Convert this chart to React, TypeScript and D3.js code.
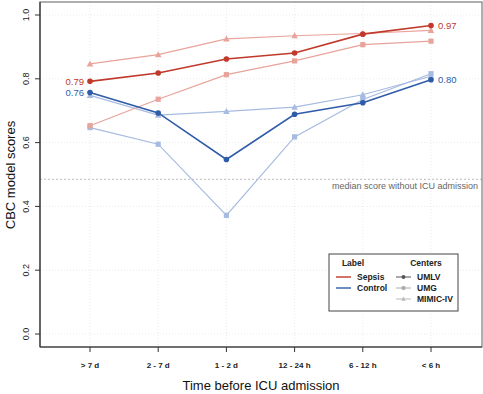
import { useEffect, useRef } from 'react';
import * as d3 from 'd3';

// Time windows before ICU admission
const categories = ['> 7 d', '2 - 7 d', '1 - 2 d', '12 - 24 h', '6 - 12 h', '< 6 h'];
const yTicks = [0, 0.2, 0.4, 0.6, 0.8, 1.0];

const sepsisUMLV = [0.792, 0.818, 0.862, 0.881, 0.94, 0.967];
const sepsisUMG = [0.653, 0.736, 0.813, 0.856, 0.907, 0.918];
const sepsisMIMIC = [0.847, 0.876, 0.925, 0.935, 0.942, 0.952];
const controlUMLV = [0.757, 0.693, 0.547, 0.689, 0.725, 0.797];
const controlUMG = [0.647, 0.595, 0.372, 0.618, 0.735, 0.816];
const controlMIMIC = [0.748, 0.686, 0.698, 0.711, 0.75, 0.808];

const medianNoICU = 0.485;

const SEPSIS_DARK = '#c0392b';
const SEPSIS_LIGHT = '#e8a39a';
const CONTROL_DARK = '#2f5ca8';
const CONTROL_LIGHT = '#a7bbe0';

type Shape = 'circle' | 'square' | 'triangle';
type Series = { values: number[]; color: string; shape: Shape; width: number };

const series: Series[] = [
  { values: controlUMG, color: CONTROL_LIGHT, shape: 'square', width: 1.2 },
  { values: controlMIMIC, color: CONTROL_LIGHT, shape: 'triangle', width: 1.2 },
  { values: sepsisUMG, color: SEPSIS_LIGHT, shape: 'square', width: 1.2 },
  { values: sepsisMIMIC, color: SEPSIS_LIGHT, shape: 'triangle', width: 1.2 },
  { values: controlUMLV, color: CONTROL_DARK, shape: 'circle', width: 1.6 },
  { values: sepsisUMLV, color: SEPSIS_DARK, shape: 'circle', width: 1.6 },
];

const W = 483;
const H = 394;
const M = { left: 40, right: 482, top: 2, bottom: 347 };
const FONT = '"Liberation Sans", Arial, sans-serif';

export default function App() {
  const svgRef = useRef<SVGSVGElement>(null);

  useEffect(() => {
    const svg = d3.select(svgRef.current);
    svg.selectAll('*').remove();

    const x = d3.scalePoint<string>().domain(categories).range([90, 431]);
    const y = d3.scaleLinear().domain([0, 1]).range([334, 15]);

    svg.append('rect').attr('width', W).attr('height', H).attr('fill', '#fff');

    // faint dotted grid
    const grid = svg.append('g');
    for (const t of yTicks) {
      grid.append('line')
        .attr('x1', M.left).attr('x2', M.right)
        .attr('y1', y(t)).attr('y2', y(t))
        .attr('stroke', '#e6e6e6').attr('stroke-width', 0.8).attr('stroke-dasharray', '1,2');
    }
    for (const c of categories) {
      grid.append('line')
        .attr('x1', x(c)!).attr('x2', x(c)!)
        .attr('y1', M.top).attr('y2', M.bottom)
        .attr('stroke', '#e6e6e6').attr('stroke-width', 0.8).attr('stroke-dasharray', '1,2');
    }

    // median reference line
    svg.append('line')
      .attr('x1', M.left).attr('x2', M.right)
      .attr('y1', y(medianNoICU)).attr('y2', y(medianNoICU))
      .attr('stroke', '#b5b5b5').attr('stroke-width', 0.9).attr('stroke-dasharray', '2,2');
    svg.append('text')
      .attr('x', 478).attr('y', y(medianNoICU) + 10)
      .attr('text-anchor', 'end').attr('font-family', FONT).attr('font-size', 9)
      .attr('fill', '#666').text('median score without ICU admission');

    // frame
    svg.append('rect')
      .attr('x', M.left).attr('y', M.top)
      .attr('width', M.right - M.left).attr('height', M.bottom - M.top)
      .attr('fill', 'none').attr('stroke', '#7a7a7a').attr('stroke-width', 1.2);
    svg.append('line')
      .attr('x1', M.left).attr('x2', M.left).attr('y1', M.top).attr('y2', M.bottom)
      .attr('stroke', '#333').attr('stroke-width', 1.2);
    svg.append('line')
      .attr('x1', M.left).attr('x2', M.right).attr('y1', M.bottom).attr('y2', M.bottom)
      .attr('stroke', '#333').attr('stroke-width', 1.2);

    // y axis ticks + rotated labels
    for (const t of yTicks) {
      svg.append('line')
        .attr('x1', M.left - 5).attr('x2', M.left).attr('y1', y(t)).attr('y2', y(t))
        .attr('stroke', '#333');
      svg.append('text')
        .attr('transform', `translate(29,${y(t)}) rotate(-90)`)
        .attr('text-anchor', 'middle').attr('font-family', FONT).attr('font-size', 9)
        .attr('fill', '#222').text(t.toFixed(1));
    }

    // x axis ticks + labels
    for (const c of categories) {
      svg.append('line')
        .attr('x1', x(c)!).attr('x2', x(c)!).attr('y1', M.bottom).attr('y2', M.bottom + 5)
        .attr('stroke', '#333');
      svg.append('text')
        .attr('x', x(c)!).attr('y', 368)
        .attr('text-anchor', 'middle').attr('font-family', FONT).attr('font-size', 8)
        .attr('font-weight', 'bold').attr('fill', '#222').text(c);
    }

    // axis titles
    svg.append('text')
      .attr('x', 261).attr('y', 390)
      .attr('text-anchor', 'middle').attr('font-family', FONT).attr('font-size', 13)
      .attr('fill', '#111').text('Time before ICU admission');
    svg.append('text')
      .attr('transform', `translate(15,175) rotate(-90)`)
      .attr('text-anchor', 'middle').attr('font-family', FONT).attr('font-size', 13)
      .attr('fill', '#111').text('CBC model scores');

    const drawMarker = (g: d3.Selection<SVGGElement, unknown, null, undefined>, shape: Shape, cx: number, cy: number, color: string) => {
      if (shape === 'circle') {
        g.append('circle').attr('cx', cx).attr('cy', cy).attr('r', 2.8).attr('fill', color);
      } else if (shape === 'square') {
        g.append('rect').attr('x', cx - 2.6).attr('y', cy - 2.6).attr('width', 5.2).attr('height', 5.2).attr('fill', color);
      } else {
        g.append('path').attr('d', `M${cx - 3.3},${cy + 2.6} L${cx + 3.3},${cy + 2.6} L${cx},${cy - 3.4} Z`).attr('fill', color);
      }
    };

    const line = d3.line<number>()
      .x((_, i) => x(categories[i])!)
      .y((v) => y(v));

    for (const s of series) {
      const g = svg.append('g');
      g.append('path').datum(s.values).attr('d', line)
        .attr('fill', 'none').attr('stroke', s.color).attr('stroke-width', s.width);
      s.values.forEach((v, i) => drawMarker(g, s.shape, x(categories[i])!, y(v), s.color));
    }

    // end labels
    const lab = (xv: number, v: number, txt: string, color: string, anchor: string) =>
      svg.append('text').attr('x', xv).attr('y', y(v) + 3.5)
        .attr('text-anchor', anchor).attr('font-family', FONT).attr('font-size', 9.5)
        .attr('fill', color).text(txt);
    lab(x(categories[0])! - 6, sepsisUMLV[0], sepsisUMLV[0].toFixed(2), SEPSIS_DARK, 'end');
    lab(x(categories[0])! - 6, controlUMLV[0], controlUMLV[0].toFixed(2), CONTROL_DARK, 'end');
    lab(x(categories[5])! + 7, sepsisUMLV[5], sepsisUMLV[5].toFixed(2), SEPSIS_DARK, 'start');
    lab(x(categories[5])! + 7, controlUMLV[5], controlUMLV[5].toFixed(2), CONTROL_DARK, 'start');

    // legend
    const lg = svg.append('g');
    lg.append('rect').attr('x', 329).attr('y', 254).attr('width', 129).attr('height', 57)
      .attr('fill', '#fff').attr('stroke', '#444').attr('stroke-width', 1);
    const txt = (tx: number, ty: number, s: string, anchor = 'start', bold = true) =>
      lg.append('text').attr('x', tx).attr('y', ty + 3).attr('text-anchor', anchor)
        .attr('font-family', FONT).attr('font-size', 8.5).attr('font-weight', bold ? 'bold' : 'normal')
        .attr('fill', '#222').text(s);
    txt(353, 263, 'Label', 'middle');
    txt(426, 263, 'Centers', 'middle');
    const labelItems = [{ name: 'Sepsis', color: SEPSIS_DARK }, { name: 'Control', color: CONTROL_DARK }];
    labelItems.forEach((it, i) => {
      const ly = 277 + i * 11;
      lg.append('line').attr('x1', 336).attr('x2', 351).attr('y1', ly).attr('y2', ly)
        .attr('stroke', it.color).attr('stroke-width', 1.4);
      txt(357, ly, it.name);
    });
    const centerItems: { name: string; shape: Shape; color: string }[] = [
      { name: 'UMLV', shape: 'circle', color: '#555' },
      { name: 'UMG', shape: 'square', color: '#aaa' },
      { name: 'MIMIC-IV', shape: 'triangle', color: '#bbb' },
    ];
    centerItems.forEach((it, i) => {
      const ly = 277 + i * 11;
      lg.append('line').attr('x1', 396).attr('x2', 411).attr('y1', ly).attr('y2', ly)
        .attr('stroke', it.color).attr('stroke-width', 1);
      const mg = lg.append('g').attr('transform', `translate(403.5,${ly}) scale(0.7) translate(-403.5,${-ly})`);
      drawMarker(mg, it.shape, 403.5, ly, it.color);
      txt(417, ly, it.name);
    });
  }, []);

  return (
    <div style={{ position: 'absolute', left: 0, top: 0 }}>
      <svg ref={svgRef} width={W} height={H} style={{ display: 'block' }} />
    </div>
  );
}
